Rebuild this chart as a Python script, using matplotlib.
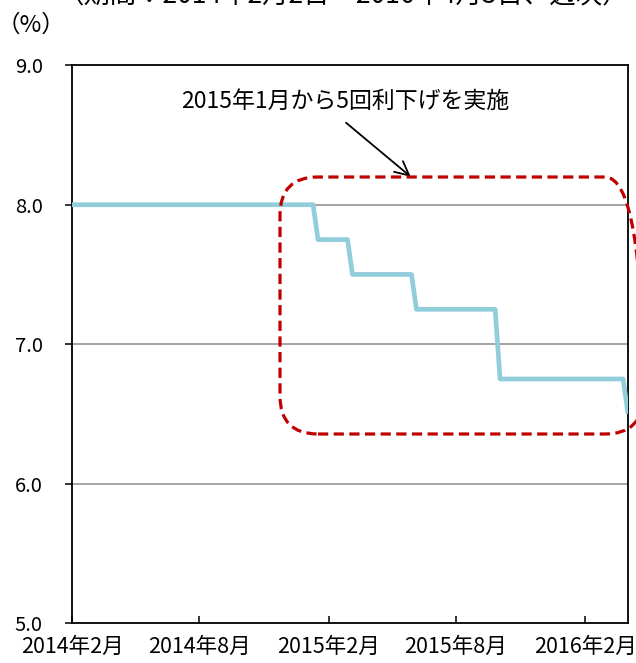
import matplotlib
matplotlib.use("Agg")
import matplotlib.pyplot as plt
import matplotlib.dates as mdates
import numpy as np
import pandas as pd
from matplotlib.patches import FancyBboxPatch
from matplotlib.transforms import IdentityTransform

plt.rcParams['font.family'] = ['Noto Sans CJK JP', 'DejaVu Sans']

# ---- data ----
weeks = pd.date_range('2014-02-02', '2016-04-03', freq='7D')
policy_rate = ([8.00] * 50 + [7.75] * 7 + [7.50] * 13 + [7.25] * 17 +
               [6.75] * 26 + [6.50] * 1)
x_tick_dates = pd.to_datetime(['2014-02-02', '2014-08-02', '2015-02-02',
                               '2015-08-02', '2016-02-02'])
x_tick_labels = ['2014年2月', '2014年8月', '2015年2月', '2015年8月', '2016年2月']
y_ticks = [5.0, 6.0, 7.0, 8.0, 9.0]
title_text = '（期間：2014年2月2日～2016年4月3日、週次）'
unit_text = '（%）'
note_text = '2015年1月から5回利下げを実施'

W, H = 636, 663
fig = plt.figure(figsize=(W / 100, H / 100), dpi=100)
ax = fig.add_axes([72 / W, (H - 623) / H, (628 - 72) / W, (623 - 65.3) / H])

ax.plot(weeks, policy_rate, color='#92CDDC', lw=3.4, solid_joinstyle='round',
        solid_capstyle='butt', zorder=3, clip_on=True)

ax.set_xlim(weeks[0], weeks[-1])
ax.set_ylim(5.0, 9.0)
ax.set_yticks(y_ticks)
ax.set_yticklabels([f'{v:.1f}' for v in y_ticks])
ax.set_xticks(x_tick_dates)
ax.set_xticklabels(x_tick_labels)

for v in [6.0, 7.0, 8.0]:
    ax.axhline(v, color='#8C8C8C', lw=1.1, zorder=1)

for s in ax.spines.values():
    s.set_color('black')
    s.set_linewidth(1.3)

ax.tick_params(axis='x', direction='in', length=5, width=1.1, pad=9,
               labelsize=15.5, colors='black')
ax.tick_params(axis='y', direction='out', length=5, width=1.1, pad=16,
               labelsize=14.5, colors='black')

# rounded dashed box (pixel geometry)
x0, x1 = 280, 643
y0, y1 = 177, 434
box = FancyBboxPatch((x0, H - y1), x1 - x0, y1 - y0,
                     boxstyle='round,pad=0,rounding_size=38',
                     transform=IdentityTransform(), fill=False,
                     edgecolor='#C00000', lw=2.3, linestyle=(0, (3.2, 1.7)),
                     zorder=5, clip_on=False)
fig.add_artist(box)

# annotation
fig.text(345.5 / W, (H - 101.7) / H, note_text, ha='center', va='center',
         fontsize=16.5, color='black')
ax.annotate('', xy=(410.7, H - 176.7), xycoords='figure pixels',
            xytext=(346, H - 122.7), textcoords='figure pixels',
            arrowprops=dict(arrowstyle='->,head_length=1.0,head_width=0.5',
                            color='black', lw=1.3, shrinkA=0, shrinkB=0),
            annotation_clip=False)

fig.text(31 / W, (H - 25) / H, unit_text, ha='center', va='center',
         fontsize=17, color='black')
fig.text(343 / W, (H - 3) / H, title_text, ha='center', va='baseline',
         fontsize=19, color='black')

fig.savefig('out.png', dpi=100)
